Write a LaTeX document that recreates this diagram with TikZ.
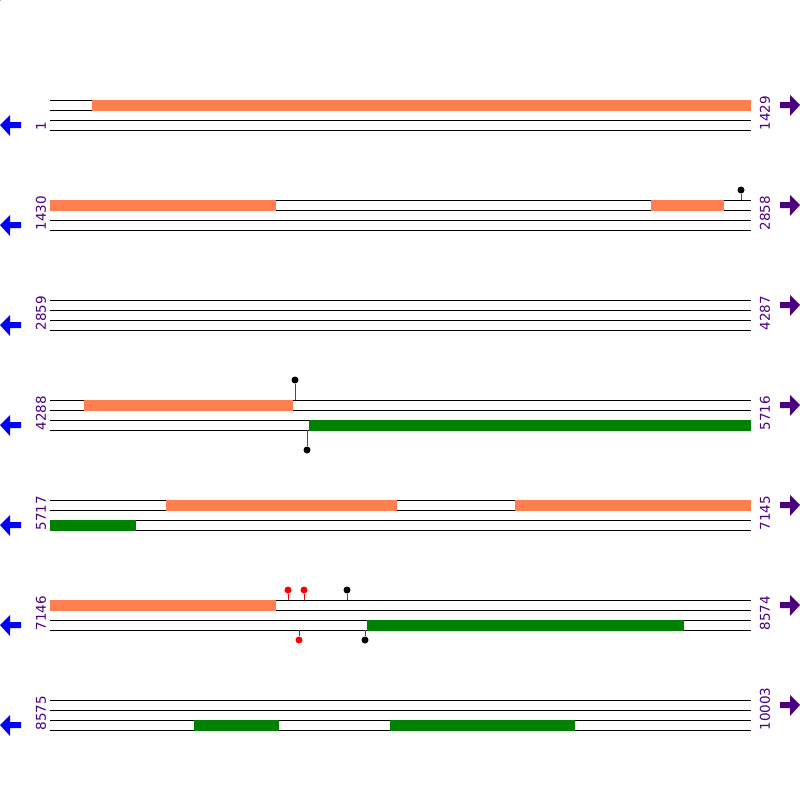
\documentclass[tikz,border=0pt]{standalone}
\usepackage{fontspec}
\setmainfont{DejaVu Sans}
\definecolor{coralbar}{HTML}{FF7F50}
\definecolor{greenbar}{HTML}{008000}
\definecolor{poslabel}{HTML}{4B0082}
\definecolor{leftarrow}{HTML}{0000FF}
\tikzset{
  pin/.style={circle, inner sep=0pt, minimum size=7pt, fill},
  stem/.style={red, line width=1pt},
  posnum/.style={rotate=90, anchor=west, inner sep=0pt, text=poslabel, font=\fontsize{13.5}{14}\selectfont},
}
\begin{document}
\begin{tikzpicture}[x=1pt, y=-1pt, line width=1pt]
\useasboundingbox (0,0) rectangle (800,800);
\fill[white] (0,0) rectangle (800,800);
\node[pin] (pin0) at (-2,-2){};
% track 1
\draw (50,100) -- (751,100);
\draw (50,110) -- (751,110);
\draw (50,120) -- (751,120);
\draw (50,130) -- (751,130);
\fill[coralbar] (92,99.5) rectangle (751,110.5);
\node[posnum] (s1) at (41,131){1};
\node[posnum] (e1) at (765,131){1429};
% track 2
\draw (50,200) -- (751,200);
\draw (50,210) -- (751,210);
\draw (50,220) -- (751,220);
\draw (50,230) -- (751,230);
\fill[coralbar] (50,199.5) rectangle (276,210.5);
\fill[coralbar] (651,199.5) rectangle (724,210.5);
\node[pin] (pin1) at (741,190){};
\coordinate (pin1b) at (741,200);
\draw[stem] (pin1b) -- (pin1);
\node[posnum] (s2) at (41,231){1430};
\node[posnum] (e2) at (765,231){2858};
% track 3
\draw (50,300) -- (751,300);
\draw (50,310) -- (751,310);
\draw (50,320) -- (751,320);
\draw (50,330) -- (751,330);
\node[posnum] (s3) at (41,331){2859};
\node[posnum] (e3) at (765,331){4287};
% track 4
\draw (50,400) -- (751,400);
\draw (50,410) -- (751,410);
\draw (50,420) -- (751,420);
\draw (50,430) -- (751,430);
\fill[coralbar] (84,399.5) rectangle (293,410.5);
\fill[greenbar] (309,419.5) rectangle (751,430.5);
\node[pin] (pin2) at (295,380){};
\coordinate (pin2b) at (295,400);
\draw[stem] (pin2b) -- (pin2);
\node[pin] (pin3) at (307,450){};
\coordinate (pin3b) at (307,430);
\draw[stem] (pin3b) -- (pin3);
\node[posnum] (s4) at (41,431){4288};
\node[posnum] (e4) at (765,431){5716};
% track 5
\draw (50,500) -- (751,500);
\draw (50,510) -- (751,510);
\draw (50,520) -- (751,520);
\draw (50,530) -- (751,530);
\fill[coralbar] (166,499.5) rectangle (397,510.5);
\fill[coralbar] (515,499.5) rectangle (751,510.5);
\fill[greenbar] (50,519.5) rectangle (136,530.5);
\node[posnum] (s5) at (41,531){5717};
\node[posnum] (e5) at (765,531){7145};
% track 6
\draw (50,600) -- (751,600);
\draw (50,610) -- (751,610);
\draw (50,620) -- (751,620);
\draw (50,630) -- (751,630);
\fill[coralbar] (50,599.5) rectangle (276,610.5);
\fill[greenbar] (367,619.5) rectangle (684,630.5);
\node[pin, red] (pin4) at (288,590){};
\coordinate (pin4b) at (288,600);
\draw[stem] (pin4b) -- (pin4);
\node[pin, red] (pin5) at (304,590){};
\coordinate (pin5b) at (304,600);
\draw[stem] (pin5b) -- (pin5);
\node[pin] (pin6) at (347,590){};
\coordinate (pin6b) at (347,600);
\draw[stem] (pin6b) -- (pin6);
\node[pin, red] (pin7) at (299,640){};
\coordinate (pin7b) at (299,630);
\draw[stem] (pin7b) -- (pin7);
\node[pin] (pin8) at (365,640){};
\coordinate (pin8b) at (365,630);
\draw[stem] (pin8b) -- (pin8);
\node[posnum] (s6) at (41,631){7146};
\node[posnum] (e6) at (765,631){8574};
% track 7
\draw (50,700) -- (751,700);
\draw (50,710) -- (751,710);
\draw (50,720) -- (751,720);
\draw (50,730) -- (751,730);
\fill[greenbar] (194,719.5) rectangle (279,730.5);
\fill[greenbar] (390,719.5) rectangle (575,730.5);
\node[posnum] (s7) at (41,731){8575};
\node[posnum] (e7) at (765,731){10003};
% strand arrows
\fill[leftarrow] (0,125) -- (10,115) -- (10,122) -- (21,122) -- (21,128) -- (10,128) -- (10,136) -- cycle;
\fill[leftarrow] (0,225) -- (10,215) -- (10,222) -- (21,222) -- (21,228) -- (10,228) -- (10,236) -- cycle;
\fill[leftarrow] (0,325) -- (10,315) -- (10,322) -- (21,322) -- (21,328) -- (10,328) -- (10,336) -- cycle;
\fill[leftarrow] (0,425) -- (10,415) -- (10,422) -- (21,422) -- (21,428) -- (10,428) -- (10,436) -- cycle;
\fill[leftarrow] (0,525) -- (10,515) -- (10,522) -- (21,522) -- (21,528) -- (10,528) -- (10,536) -- cycle;
\fill[leftarrow] (0,625) -- (10,615) -- (10,622) -- (21,622) -- (21,628) -- (10,628) -- (10,636) -- cycle;
\fill[leftarrow] (0,725) -- (10,715) -- (10,722) -- (21,722) -- (21,728) -- (10,728) -- (10,736) -- cycle;
\fill[poslabel] (800,105) -- (790,95) -- (790,102) -- (780,102) -- (780,108) -- (790,108) -- (790,116) -- cycle;
\fill[poslabel] (800,205) -- (790,195) -- (790,202) -- (780,202) -- (780,208) -- (790,208) -- (790,216) -- cycle;
\fill[poslabel] (800,305) -- (790,295) -- (790,302) -- (780,302) -- (780,308) -- (790,308) -- (790,316) -- cycle;
\fill[poslabel] (800,405) -- (790,395) -- (790,402) -- (780,402) -- (780,408) -- (790,408) -- (790,416) -- cycle;
\fill[poslabel] (800,505) -- (790,495) -- (790,502) -- (780,502) -- (780,508) -- (790,508) -- (790,516) -- cycle;
\fill[poslabel] (800,605) -- (790,595) -- (790,602) -- (780,602) -- (780,608) -- (790,608) -- (790,616) -- cycle;
\fill[poslabel] (800,705) -- (790,695) -- (790,702) -- (780,702) -- (780,708) -- (790,708) -- (790,716) -- cycle;
\end{tikzpicture}
\end{document}
